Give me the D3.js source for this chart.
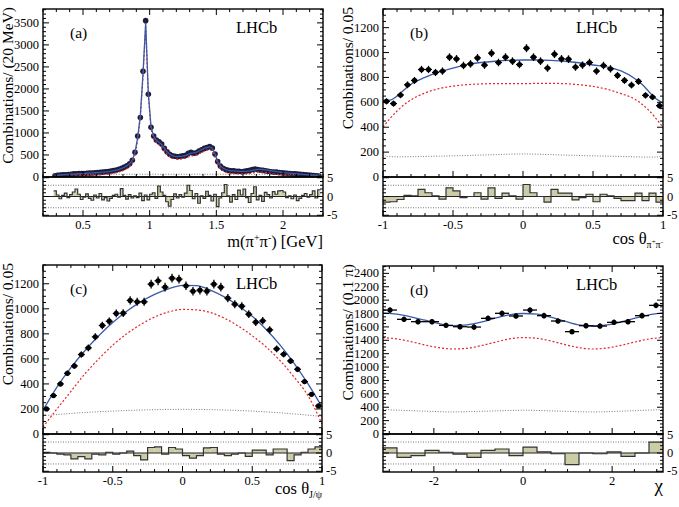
<!DOCTYPE html>
<html><head><meta charset="utf-8">
<script src="https://cdn.jsdelivr.net/npm/d3@7"></script>
<style>
body{margin:0;background:#fff}
svg{display:block;background:#fff}
</style></head>
<body><svg id="c" width="679" height="507" font-family="Liberation Serif, Times New Roman, serif"></svg>
<script>
// ---------------- DATA ----------------
// Panel (a): m(pi+pi-) in 20 MeV bins starting at 0.28 GeV
const aBinStart = 0.28, aBinWidth = 0.02;
const aCounts = [30,38,45,50,52,58,62,70,72,78,80,78,85,88,92,95,100,105,110,118,
  125,135,145,160,175,195,225,255,300,380,560,930,1350,2400,3550,1880,1130,930,840,800,
  750,650,575,515,480,470,460,470,480,490,540,560,540,550,590,620,650,670,690,660,
  520,350,250,200,170,150,140,140,130,130,120,130,140,150,170,180,170,160,150,140,
  130,120,110,110,100,95,90,85,80,75,70,65,60,55,50,45,40,35,30,20];
const aFit = [30,38,44,49,54,58,62,67,71,75,78,81,85,88,92,96,100,105,110,117,
  124,133,144,158,174,195,222,258,305,385,560,900,1400,2350,3500,1900,1150,930,840,790,
  740,660,580,520,485,470,465,468,475,488,515,540,548,560,590,620,650,670,685,655,
  520,350,255,200,170,152,142,138,134,130,128,128,132,140,150,162,172,175,170,162,
  152,142,132,123,115,108,100,94,88,82,76,70,64,58,52,46,40,34,28,22];
const aSig = [0,2,5,8,12,15,18,22,25,28,30,32,35,38,41,44,47,51,55,61,
  67,75,85,98,113,133,160,195,242,322,495,835,1335,2285,3440,1840,1090,870,780,730,
  680,600,520,460,425,410,405,408,415,428,455,480,488,500,530,560,590,610,625,595,
  460,290,195,140,110,92,82,78,74,70,68,68,72,80,90,102,112,115,110,102,
  92,82,72,63,55,48,41,35,29,24,19,15,12,9,7,5,3,2,1,0];
const aBkgX = [0.28,0.6,1.0,1.4,1.8,2.28];
const aBkgY = [55,60,63,63,60,55];
const aPulls = [1.5,0.4,-0.6,0.3,0.9,-0.3,0.5,1.2,2.0,0.6,
  -0.8,-0.2,0.7,-0.5,-1.0,0.4,-0.4,0.8,-0.9,-0.3,
  -1.2,-0.5,0.3,0.6,-0.2,2.1,0.3,-0.7,0.5,-0.4,
  0.2,-0.3,0.9,-1.1,0.4,-0.9,0.6,1.0,-0.5,2.8,
  1.2,0.3,-1.4,-2.6,-0.8,0.7,-0.4,0.5,-0.2,0.9,
  3.0,1.6,-0.6,0.8,-1.8,0.2,-0.5,1.4,0.3,-1.2,
  0.6,-2.7,-0.4,1.0,3.2,0.2,-1.5,0.5,-0.8,1.7,
  0.4,2.0,-0.3,-1.6,0.8,2.6,-0.9,0.3,-1.3,1.1,
  0.5,-0.4,1.3,0.6,1.5,1.6,1.2,-0.3,0.2,-0.6,
  0.4,-1.1,-0.5,0.3,0.8,-0.2,0.5,1.5,-0.4,1.8];

// Panel (b): cos theta_pipi, 0.05 bins
const bBinStart = -1, bBinWidth = 0.05;
const bCounts = [608,590,659,741,776,864,864,840,851,963,949,896,909,957,899,995,920,963,931,904,
  1035,963,931,875,987,949,947,883,899,920,851,896,869,816,776,739,768,656,643,573];
const bCurveX = [-1,-0.95,-0.9,-0.85,-0.8,-0.7,-0.6,-0.5,-0.4,-0.3,-0.2,-0.1,0,0.1,0.2,0.3,0.4,0.5,0.6,0.7,0.8,0.85,0.9,0.95,1];
const bFit = [615,618,650,700,745,800,845,875,905,920,930,937,940,940,937,930,918,900,885,852,790,745,685,628,595];
const bSig = [400,470,530,580,620,675,710,730,742,748,750,750,750,752,752,750,742,728,705,670,625,585,535,470,400];
const bBkgX = [-1,-0.97,-0.9,-0.7,-0.5,-0.3,0,0.3,0.5,0.7,0.9,0.97,1];
const bBkgY = [195,165,162,165,170,176,185,176,170,165,160,162,190];
const bPulls = [-1.5,-1.4,-0.8,0.3,0.2,1.9,1.0,0.2,-0.7,2.3,1.5,-0.3,0,1.0,-0.7,2.3,-0.5,0.9,0.2,-0.7,
  3.2,1.0,0,-1.5,1.9,0.9,0.9,-0.9,-0.3,0.6,-1.4,0.6,0.2,-0.5,-1.1,-1.1,0.9,-1.1,0.9,-1.5];

// Panel (c): cos theta_J/psi, 0.05 bins
const cBinStart = -1, cBinWidth = 0.05;
const cCounts = [200,307,400,485,544,635,688,776,867,901,963,965,1067,1056,1056,1197,1224,1173,1245,1237,
  1184,1141,1149,1141,1197,1173,1085,1037,1021,957,893,904,832,680,637,584,517,419,317,224];
const cCurveX = [-1,-0.9,-0.8,-0.7,-0.6,-0.5,-0.4,-0.3,-0.2,-0.1,0,0.1,0.2,0.3,0.4,0.5,0.6,0.7,0.8,0.9,1];
const cFit = [190,375,530,665,785,890,980,1055,1115,1160,1188,1185,1150,1095,1025,940,835,710,565,400,215];
const cSig = [55,200,340,480,600,710,800,875,935,975,995,992,970,925,862,785,695,585,455,305,80];
const cBkgX = [-1,-0.75,-0.5,-0.25,0,0.25,0.5,0.75,1];
const cBkgY = [145,168,183,193,197,193,183,165,140];
const cPulls = [0.2,0,-0.3,-0.5,-1.6,-1.0,-1.6,-0.3,-0.5,0.2,-0.3,0,0.5,-0.7,-1.9,1.5,1.7,-0.3,1.5,1.1,
  -0.7,-1.4,-0.7,1.4,1.5,-0.3,-0.7,-0.3,0,-0.9,0.8,0.8,-0.5,1.1,1.1,-2.1,-0.5,0.2,1.1,1.7];

// Panel (d): chi, 0.1*pi bins
const dBinStartPi = -1, dBinWidthPi = 0.1;
const dCounts = [1852,1713,1678,1678,1623,1603,1598,1728,1803,1763,1852,1768,1688,1529,1618,1613,1668,1678,1768,1922];
const dCurveXPi = [-1,-0.9,-0.8,-0.7,-0.6,-0.5,-0.4,-0.3,-0.2,-0.1,0,0.1,0.2,0.3,0.4,0.5,0.6,0.7,0.8,0.9,1];
const dFit = [1810,1790,1750,1700,1650,1620,1630,1670,1730,1780,1800,1790,1745,1685,1630,1610,1630,1675,1730,1780,1810];
const dSig = [1440,1420,1380,1330,1290,1270,1280,1320,1370,1420,1440,1430,1390,1335,1290,1270,1285,1325,1375,1420,1440];
const dBkgXPi = [-1,-0.75,-0.5,-0.25,0,0.25,0.5,0.75,1];
const dBkgY = [365,345,330,342,355,342,330,345,365];
const dPulls = [1.4,-1.2,-0.7,0.7,0.2,-0.3,-1.2,0.7,1.1,-0.7,1.6,0.3,-0.2,-3.2,0,-0.2,0.3,-0.9,0,3.0];

// ---------------- DRAWING ----------------
const FONT = "Liberation Serif, Times New Roman, serif";
const svg = d3.select("#c");
const BLUE = "#3a5aa8", RED = "#e3262b", GRAY = "#7a7a7a", FILL = "#cdcca8";
let clipId = 0;

function txt(g) { return g.append("text").attr("font-family", FONT).attr("fill", "#000"); }

function panel(c) {
  const g = svg.append("g");
  const x = d3.scaleLinear().domain(c.xDomain).range([c.x0, c.x1]);
  const y = d3.scaleLinear().domain(c.yDomain).range([c.mid, c.top]);
  const yr = d3.scaleLinear().domain([-5.2, 5.2]).range([c.bot, c.mid]);

  const cm = "clip" + (clipId++), cr = "clip" + (clipId++);
  const defs = g.append("defs");
  defs.append("clipPath").attr("id", cm).append("rect")
    .attr("x", c.x0).attr("y", c.top).attr("width", c.x1 - c.x0).attr("height", c.mid - c.top);
  defs.append("clipPath").attr("id", cr).append("rect")
    .attr("x", c.x0).attr("y", c.mid).attr("width", c.x1 - c.x0).attr("height", c.bot - c.mid);

  const gm = g.append("g").attr("clip-path", `url(#${cm})`);
  const line = (xs, ys, curve) => d3.line().x(d => x(d[0])).y(d => y(d[1])).curve(curve)(d3.zip(xs, ys));

  function drawCurves() {
    gm.append("path").attr("d", line(c.bkgX, c.bkgY, d3.curveMonotoneX))
      .attr("fill", "none").attr("stroke", GRAY).attr("stroke-width", 1).attr("stroke-dasharray", "1,1.6");
    gm.append("path").attr("d", line(c.curveX, c.sig, c.curve))
      .attr("fill", "none").attr("stroke", RED).attr("stroke-width", 1.2).attr("stroke-dasharray", "2,2");
    gm.append("path").attr("d", line(c.curveX, c.fit, c.curve))
      .attr("fill", "none").attr("stroke", BLUE).attr("stroke-width", 1.3);
  }
  function drawPoints() {
    const pts = c.counts.map((v, i) => ({ cx: c.binStart + c.binWidth * (i + 0.5), v }));
    const gp = gm.append("g");
    pts.forEach(p => {
      const e = Math.sqrt(p.v);
      gp.append("line").attr("x1", x(p.cx)).attr("x2", x(p.cx)).attr("y1", y(p.v - e)).attr("y2", y(p.v + e))
        .attr("stroke", "#000").attr("stroke-width", 1.3);
      gp.append("line").attr("x1", x(p.cx - c.binWidth / 2)).attr("x2", x(p.cx + c.binWidth / 2))
        .attr("y1", y(p.v)).attr("y2", y(p.v)).attr("stroke", "#000").attr("stroke-width", 1.3);
      gp.append("circle").attr("cx", x(p.cx)).attr("cy", y(p.v)).attr("r", c.r).attr("fill", c.markerFill || "#000");
    });
  }
  if (c.pointsFirst) { drawPoints(); drawCurves(); } else { drawCurves(); drawPoints(); }

  // residual
  const gr = g.append("g").attr("clip-path", `url(#${cr})`);
  [3, -3].forEach(v => gr.append("line").attr("x1", c.x0).attr("x2", c.x1).attr("y1", yr(v)).attr("y2", yr(v))
    .attr("stroke", "#777").attr("stroke-width", 1).attr("stroke-dasharray", "1,1.5"));
  const outline = [];
  c.pulls.forEach((v, i) => {
    const e0 = c.binStart + c.binWidth * i, e1 = e0 + c.binWidth;
    gr.append("rect").attr("x", x(e0)).attr("width", x(e1) - x(e0))
      .attr("y", yr(Math.max(v, 0))).attr("height", Math.abs(yr(v) - yr(0)))
      .attr("fill", FILL);
    outline.push([e0, v], [e1, v]);
  });
  gr.append("line").attr("x1", c.x0).attr("x2", c.x1).attr("y1", yr(0)).attr("y2", yr(0))
    .attr("stroke", "#222").attr("stroke-width", 1.1);
  gr.append("path").attr("d", d3.line().x(d => x(d[0])).y(d => yr(d[1]))(outline))
    .attr("fill", "none").attr("stroke", "#333").attr("stroke-width", 1.2);

  // frames
  const ax = g.append("g").attr("stroke", "#000").attr("stroke-width", 1);
  ax.append("rect").attr("x", c.x0).attr("y", c.top).attr("width", c.x1 - c.x0).attr("height", c.mid - c.top).attr("fill", "none").attr("stroke-width", 1.4);
  ax.append("rect").attr("x", c.x0).attr("y", c.mid).attr("width", c.x1 - c.x0).attr("height", c.bot - c.mid).attr("fill", "none").attr("stroke-width", 1.4);

  const tick = (x1, y1, x2, y2) => ax.append("line").attr("x1", x1).attr("y1", y1).attr("x2", x2).attr("y2", y2);
  c.xMinor.forEach(t => {
    const major = c.xMajor.includes(t);
    const L = major ? 6 : 3;
    tick(x(t), c.top, x(t), c.top + L);
    tick(x(t), c.mid, x(t), c.mid - L);
    tick(x(t), c.bot, x(t), c.bot - L);
  });
  c.yMinor.forEach(t => {
    const major = c.yMajor.includes(t);
    const L = major ? 6 : 3;
    tick(c.x0, y(t), c.x0 + L, y(t));
    tick(c.x1, y(t), c.x1 - L, y(t));
  });
  d3.range(-5, 6).forEach(t => {
    const L = (t % 5 === 0) ? 6 : 3;
    tick(c.x0, yr(t), c.x0 + L, yr(t));
    tick(c.x1, yr(t), c.x1 - L, yr(t));
  });

  // tick labels
  c.xMajor.forEach((t, i) => txt(g).attr("x", x(t)).attr("y", c.bot + 13)
    .attr("text-anchor", "middle").attr("font-size", 12.5).text(c.xLabels[i]));
  c.yMajor.forEach(t => txt(g).attr("x", c.x0 - 4).attr("y", y(t) + 4)
    .attr("text-anchor", "end").attr("font-size", 12.5).text(t));
  [[5, "5"], [0, "0"], [-5, "-5"]].forEach(([t, s]) => txt(g).attr("x", c.x1 + 4).attr("y", yr(t) + 4)
    .attr("text-anchor", "start").attr("font-size", 12.5).text(s));

  // LHCb and panel tag
  txt(g).attr("x", c.x0 + 193).attr("y", c.top + 24).attr("font-size", 16.5).text("LHCb");
  txt(g).attr("x", c.x0 + 27).attr("y", c.top + 29).attr("font-size", 15.5).text(c.tag);

  // y title
  txt(g).attr("transform", `translate(${c.x0 - 30},${c.top - 2}) rotate(-90)`)
    .attr("text-anchor", "end").attr("font-size", 15.5).text(c.yTitle);

  // x title
  const xt = txt(g).attr("x", c.x1).attr("y", c.xTitleY).attr("text-anchor", "end").attr("font-size", 16.5);
  c.xTitle(xt);
  return g;
}

function ticksRange(a, b, s) { const out = []; for (let k = Math.round(a / s); k * s <= b + 1e-9; k++) out.push(+(k * s).toFixed(6)); return out; }

// (a)
panel({
  x0: 43, x1: 323, top: 9, mid: 177, bot: 216,
  xDomain: [0.2, 2.3], yDomain: [0, 3815],
  binStart: aBinStart, binWidth: aBinWidth, counts: aCounts, r: 2.8, markerFill: "#1d1d3a", pointsFirst: true,
  curveX: aCounts.map((_, i) => aBinStart + aBinWidth * (i + 0.5)), fit: aFit, sig: aSig, curve: d3.curveLinear,
  bkgX: aBkgX, bkgY: aBkgY, pulls: aPulls,
  xMajor: [0.5, 1, 1.5, 2], xLabels: ["0.5", "1", "1.5", "2"], xMinor: ticksRange(0.2, 2.3, 0.1),
  yMajor: ticksRange(0, 3500, 500), yMinor: ticksRange(0, 3800, 100),
  tag: "(a)", yTitle: "Combinations/ (20 MeV)", xTitleY: 247,
  xTitle: t => { t.append("tspan").text("m(π"); t.append("tspan").attr("dy", -6).attr("font-size", 10).text("+");
    t.append("tspan").attr("dy", 6).text("π"); t.append("tspan").attr("dy", -6).attr("font-size", 10).text("-");
    t.append("tspan").attr("dy", 6).text(") [GeV]"); }
});

// (b)
panel({
  x0: 383, x1: 663, top: 9, mid: 177, bot: 216,
  xDomain: [-1, 1], yDomain: [0, 1350],
  binStart: bBinStart, binWidth: bBinWidth, counts: bCounts, r: 2.6,
  curveX: bCurveX, fit: bFit, sig: bSig, curve: d3.curveMonotoneX,
  bkgX: bBkgX, bkgY: bBkgY, pulls: bPulls,
  xMajor: [-1, -0.5, 0, 0.5, 1], xLabels: ["-1", "-0.5", "0", "0.5", "1"], xMinor: ticksRange(-1, 1, 0.1),
  yMajor: ticksRange(0, 1200, 200), yMinor: ticksRange(0, 1350, 50),
  tag: "(b)", yTitle: "Combinations/ 0.05", xTitleY: 244,
  xTitle: t => { t.append("tspan").text("cos θ"); t.append("tspan").attr("dy", 4).attr("font-size", 10).text("π");
    t.append("tspan").attr("dy", -4).attr("font-size", 7).text("+"); t.append("tspan").attr("dy", 4).attr("font-size", 10).text("π");
    t.append("tspan").attr("dy", -4).attr("font-size", 7).text("-"); }
});

// (c)
panel({
  x0: 43, x1: 322, top: 265, mid: 434, bot: 472,
  xDomain: [-1, 1], yDomain: [0, 1350],
  binStart: cBinStart, binWidth: cBinWidth, counts: cCounts, r: 2.6,
  curveX: cCurveX, fit: cFit, sig: cSig, curve: d3.curveMonotoneX,
  bkgX: cBkgX, bkgY: cBkgY, pulls: cPulls,
  xMajor: [-1, -0.5, 0, 0.5, 1], xLabels: ["-1", "-0.5", "0", "0.5", "1"], xMinor: ticksRange(-1, 1, 0.1),
  yMajor: ticksRange(0, 1200, 200), yMinor: ticksRange(0, 1350, 50),
  tag: "(c)", yTitle: "Combinations/ 0.05", xTitleY: 494,
  xTitle: t => { t.append("tspan").text("cos θ"); t.append("tspan").attr("dy", 4).attr("font-size", 10).text("J/ψ"); }
});

// (d)
const PI = Math.PI;
panel({
  x0: 383, x1: 663, top: 266, mid: 434, bot: 472,
  xDomain: [-PI, PI], yDomain: [0, 2510],
  binStart: dBinStartPi * PI, binWidth: dBinWidthPi * PI, counts: dCounts, r: 2.6,
  curveX: dCurveXPi.map(v => v * PI), fit: dFit, sig: dSig, curve: d3.curveMonotoneX,
  bkgX: dBkgXPi.map(v => v * PI), bkgY: dBkgY, pulls: dPulls,
  xMajor: [-2, 0, 2], xLabels: ["-2", "0", "2"], xMinor: ticksRange(-3, 3, 0.5),
  yMajor: ticksRange(0, 2400, 200), yMinor: ticksRange(0, 2500, 50),
  tag: "(d)", yTitle: "Combinations/ (0.1 π)", xTitleY: 492,
  xTitle: t => { t.attr("font-size", 19).text("χ"); }
});
</script></body></html>
